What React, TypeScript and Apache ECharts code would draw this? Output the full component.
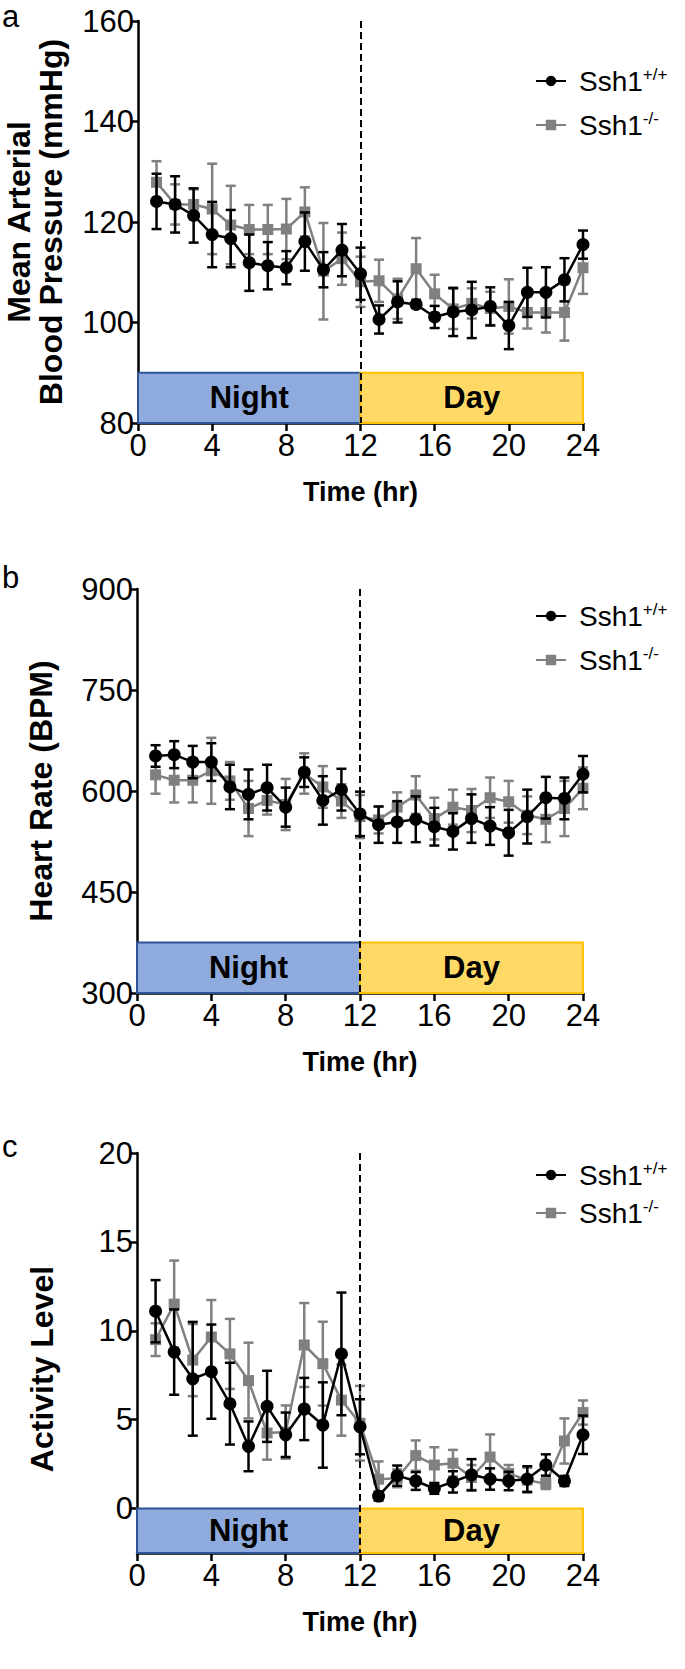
import React, { useEffect, useRef } from "react";
import * as echarts from "echarts";

// ---------- data ----------
const hours = [1, 2, 3, 4, 5, 6, 7, 8, 9, 10, 11, 12, 13, 14, 15, 16, 17, 18, 19, 20, 21, 22, 23, 24];

// a: Mean arterial blood pressure (mmHg)
const mapWt = [124.1, 123.5, 121.3, 117.5, 116.7, 111.9, 111.3, 110.9, 116.1, 110.5, 114.4, 109.7, 100.6, 104.1, 103.6, 101.1, 102.1, 102.5, 103.2, 99.4, 106.0, 106.0, 108.5, 115.5];
const mapWtErr = [5.5, 5.6, 5.4, 6.5, 5.7, 5.6, 4.7, 3.3, 5.8, 3.5, 5.2, 5.2, 2.8, 4.1, 0.7, 2.2, 4.8, 5.6, 3.8, 4.7, 4.9, 5.0, 4.3, 2.8];
const mapKo = [127.9, 123.5, 123.5, 122.6, 119.4, 118.5, 118.5, 118.6, 122.0, 110.2, 112.7, 108.1, 108.3, 104.7, 110.7, 105.7, 102.7, 103.8, 102.8, 103.2, 102.0, 102.0, 102.0, 110.9];
const mapKoErr = [4.2, 4.0, 3.0, 9.0, 7.8, 4.9, 4.9, 6.0, 4.9, 9.6, 5.2, 5.0, 4.2, 4.0, 6.1, 3.8, 4.0, 3.0, 3.3, 5.4, 3.2, 4.0, 5.6, 5.2];

// b: Heart rate (BPM)
const hrWt = [652, 654, 643, 643, 606, 595, 605, 576, 628, 586, 602, 566, 550, 554, 558, 547, 540, 559, 548, 538, 562, 590, 589, 625];
const hrWtErr = [16, 20, 24, 28, 33, 37, 34, 29, 22, 36, 31, 33, 27, 31, 34, 28, 27, 36, 28, 34, 40, 31, 31, 27];
const hrKo = [624, 616, 616, 630, 615, 574, 586, 580, 626, 606, 585, 562, 557, 576, 594, 559, 576, 571, 590, 584, 564, 558, 574, 604];
const hrKoErr = [28, 33, 33, 49, 28, 41, 21, 38, 30, 31, 25, 32, 20, 22, 28, 31, 26, 32, 30, 31, 28, 34, 41, 31];

// c: Activity level
const actWt = [11.1, 8.8, 7.3, 7.7, 5.9, 3.5, 5.75, 4.15, 5.6, 4.7, 8.7, 4.6, 0.7, 1.85, 1.55, 1.13, 1.5, 1.9, 1.66, 1.55, 1.66, 2.45, 1.55, 4.15];
const actWtErr = [1.75, 2.4, 3.2, 2.65, 2.3, 1.4, 2.0, 1.25, 1.75, 2.4, 3.45, 1.55, 0.25, 0.57, 0.5, 0.3, 0.6, 0.88, 0.6, 0.52, 0.72, 0.6, 0.28, 1.08];
const actKo = [9.5, 11.5, 8.35, 9.65, 8.7, 7.2, 4.25, 4.3, 9.2, 8.15, 6.1, 4.8, 1.65, 1.7, 2.98, 2.45, 2.55, 1.75, 2.9, 1.98, 1.6, 1.4, 3.8, 5.4];
const actKoErr = [0.92, 2.45, 2.03, 2.08, 1.97, 2.13, 1.5, 1.5, 2.36, 2.36, 2.0, 2.1, 1.0, 0.5, 0.85, 1.0, 0.75, 0.7, 1.27, 0.47, 0.7, 0.3, 1.27, 0.68];

const seriesNames = ["Ssh1+/+", "Ssh1-/-"];
const phaseLabels = ["Night", "Day"];
const phaseBounds = [0, 12, 24];

const panels = [
  { letter: "a", title: ["Mean Arterial", "Blood Pressure (mmHg)"], wt: mapWt, wtErr: mapWtErr, ko: mapKo, koErr: mapKoErr, yMin: 80, yMax: 160, yTicks: [80, 100, 120, 140, 160], boxLow: 80, boxHigh: 90 },
  { letter: "b", title: ["Heart Rate (BPM)"], wt: hrWt, wtErr: hrWtErr, ko: hrKo, koErr: hrKoErr, yMin: 300, yMax: 900, yTicks: [300, 450, 600, 750, 900], boxLow: 300, boxHigh: 375 },
  { letter: "c", title: ["Activity Level"], wt: actWt, wtErr: actWtErr, ko: actKo, koErr: actKoErr, yMin: -2.5, yMax: 20, yTicks: [0, 5, 10, 15, 20], boxLow: -2.5, boxHigh: 0 },
];

// ---------- layout ----------
const W = 685;
const H = 1669;
const SANS = '"Liberation Sans", Arial, Helvetica, sans-serif';
const grids = [
  { left: 138, top: 21, width: 445, height: 402 },
  { left: 137, top: 589, width: 446, height: 404 },
  { left: 137, top: 1153, width: 446, height: 400 },
];
const legendTops = [61, 596, 1155];
const legendGaps = [15, 15, 9];
const titleY = [222, 791, 1369];
const titleX = [[19, 51], [41], [42]];
const letterY = [16, 577, 1146];
const nameGap = 55;

const BLACK = "#000000";
const GRAY = "#808080";

function errRender(color: string) {
  return (params: any, api: any) => {
    const x = api.value(0);
    const lo = api.value(1);
    const hi = api.value(2);
    const a = api.coord([x, hi]);
    const b = api.coord([x, lo]);
    const hw = 5;
    const style = { stroke: color, lineWidth: 2.5 };
    return {
      type: "group",
      children: [
        { type: "line", shape: { x1: a[0], y1: a[1], x2: b[0], y2: b[1] }, style },
        { type: "line", shape: { x1: a[0] - hw, y1: a[1], x2: a[0] + hw, y2: a[1] }, style },
        { type: "line", shape: { x1: b[0] - hw, y1: b[1], x2: b[0] + hw, y2: b[1] }, style },
      ],
    };
  };
}

function buildOption() {
  const xAxis: any[] = [];
  const yAxis: any[] = [];
  const series: any[] = [];
  const legend: any[] = [];
  const graphic: any[] = [];

  panels.forEach((p, i) => {
    xAxis.push({
      type: "value",
      gridIndex: i,
      min: 0,
      max: 24,
      interval: 4,
      name: "Time (hr)",
      nameLocation: "middle",
      nameGap,
      nameTextStyle: { fontFamily: SANS, fontWeight: "bold", fontSize: 27, color: BLACK },
      axisLine: { show: true, onZero: false, lineStyle: { color: BLACK, width: 2.5 } },
      axisTick: { show: true, length: 8, lineStyle: { color: BLACK, width: 2.5 } },
      axisLabel: { fontFamily: SANS, fontSize: 31, color: BLACK, margin: 7 },
      splitLine: { show: false },
    });
    yAxis.push({
      type: "value",
      gridIndex: i,
      min: p.yMin,
      max: p.yMax,
      axisLine: { show: true, onZero: false, lineStyle: { color: BLACK, width: 2.5 } },
      axisTick: { show: true, length: 7, lineStyle: { color: BLACK, width: 2.5 }, customValues: p.yTicks },
      axisLabel: { fontFamily: SANS, fontSize: 31, color: BLACK, margin: 4, customValues: p.yTicks },
      splitLine: { show: false },
    });

    // background boxes + dashed divider
    series.push({
      type: "line",
      name: "bg" + i,
      xAxisIndex: i,
      yAxisIndex: i,
      data: [],
      z: 1,
      silent: true,
      markArea: {
        silent: true,
        data: [
          [
            {
              xAxis: phaseBounds[0],
              yAxis: p.boxLow,
              itemStyle: { color: "#8FAADC", borderColor: "#2F5597", borderWidth: 2 },
              label: { show: true, position: "inside", formatter: phaseLabels[0], fontFamily: SANS, fontWeight: "bold", fontSize: 31, color: BLACK },
            },
            { xAxis: phaseBounds[1], yAxis: p.boxHigh },
          ],
          [
            {
              xAxis: phaseBounds[1],
              yAxis: p.boxLow,
              itemStyle: { color: "#FFD966", borderColor: "#FFC000", borderWidth: 2 },
              label: { show: true, position: "inside", formatter: phaseLabels[1], fontFamily: SANS, fontWeight: "bold", fontSize: 31, color: BLACK },
            },
            { xAxis: phaseBounds[2], yAxis: p.boxHigh },
          ],
        ],
      },
      markLine: {
        silent: true,
        symbol: "none",
        label: { show: false },
        lineStyle: { color: BLACK, type: [7, 4], width: 2 },
        data: [[{ coord: [phaseBounds[1], p.yMax] }, { coord: [phaseBounds[1], p.yMin] }]],
      },
    });

    const groups = [
      { name: seriesNames[1], mean: p.ko, err: p.koErr, color: GRAY, symbol: "rect", size: 11, z: 2 },
      { name: seriesNames[0], mean: p.wt, err: p.wtErr, color: BLACK, symbol: "circle", size: 13, z: 4 },
    ];
    groups.forEach((g) => {
      series.push({
        type: "custom",
        name: "err-" + g.name + i,
        xAxisIndex: i,
        yAxisIndex: i,
        z: g.z,
        silent: true,
        renderItem: errRender(g.color),
        encode: { x: 0, y: [1, 2] },
        data: hours.map((h, k) => [h, g.mean[k] - g.err[k], g.mean[k] + g.err[k]]),
      });
      series.push({
        type: "line",
        name: g.name,
        xAxisIndex: i,
        yAxisIndex: i,
        z: g.z + 1,
        symbol: g.symbol,
        symbolSize: g.size,
        showSymbol: true,
        itemStyle: { color: g.color },
        lineStyle: { color: g.color, width: 2.5 },
        data: hours.map((h, k) => [h, g.mean[k]]),
      });
    });

    legend.push({
      data: seriesNames,
      orient: "vertical",
      left: 530,
      top: legendTops[i],
      itemWidth: 30,
      itemHeight: 13,
      itemGap: legendGaps[i],
      selectedMode: false,
      formatter: (name: string) => (name === seriesNames[0] ? "{m|Ssh1}{s|+/+}" : "{m|Ssh1}{s|-/-}"),
      textStyle: {
        rich: {
          m: { fontFamily: SANS, fontSize: 28, color: BLACK, lineHeight: 30, padding: [0, 0, 0, 8] },
          s: { fontFamily: SANS, fontSize: 17, color: BLACK, verticalAlign: "top", lineHeight: 30, padding: [0, 0, 8, 0] },
        },
      },
    });

    p.title.forEach((t, k) => {
      graphic.push({
        type: "text",
        x: titleX[i][k],
        y: titleY[i],
        rotation: Math.PI / 2,
        style: { text: t, font: `bold 32px ${SANS}`, fill: BLACK, textAlign: "center", textVerticalAlign: "middle" },
      });
    });
    graphic.push({
      type: "text",
      x: 2,
      y: letterY[i],
      style: { text: p.letter, font: `31px ${SANS}`, fill: BLACK, textAlign: "left", textVerticalAlign: "middle" },
    });
  });

  return {
    animation: false,
    backgroundColor: "#ffffff",
    grid: grids,
    xAxis,
    yAxis,
    series,
    legend,
    graphic,
  };
}

export default function App() {
  const ref = useRef<HTMLDivElement>(null);
  useEffect(() => {
    document.body.style.margin = "0";
    if (!ref.current) return;
    const chart = echarts.init(ref.current, undefined, { renderer: "svg" });
    chart.setOption(buildOption() as any);
    return () => chart.dispose();
  }, []);
  return <div ref={ref} style={{ width: W, height: H }} />;
}
